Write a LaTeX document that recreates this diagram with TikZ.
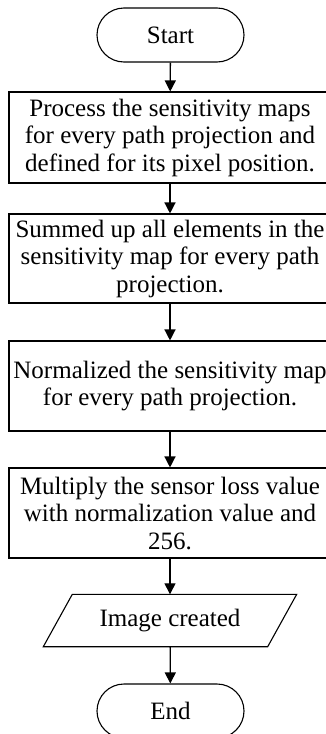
\documentclass[tikz,border=0pt]{standalone}
\usepackage{fontspec}
\setmainfont{Liberation Serif}
\usetikzlibrary{arrows.meta,calc}
\begin{document}
\begin{tikzpicture}[x=1pt,y=-1pt,
  every node/.style={font=\fontsize{25}{27.5}\selectfont, align=center, inner sep=0pt},
  term/.style={draw, line width=1.1pt, rounded corners=27pt, minimum width=147pt, minimum height=54pt},
  procbox/.style={draw, line width=1.1pt, minimum width=322pt},
  iotext/.style={minimum width=224pt, minimum height=52pt},
  flow/.style={line width=1.3pt, -{Triangle[width=11pt,length=11pt]}}]
\useasboundingbox (0,0) rectangle (326,734);
\clip (0,0) rectangle (326,734);
\node[term] (start) at (170.5,35) {Start};
\node[procbox, minimum height=91pt] (p1) at (170,137.5) {Process the sensitivity maps\\for every path projection and\\defined for its pixel position.};
\node[procbox, minimum height=89pt] (p2) at (170,258.5) {Summed up all elements in the\\sensitivity map for every path\\projection.};
\node[procbox, minimum height=90pt] (p3) at (170,386) {Normalized the sensitivity map\\for every path projection.};
\node[procbox, minimum height=90pt] (p4) at (170,513) {Multiply the sensor loss value\\with normalization value and\\256.};
\node[iotext] (io) at (170,620.5) {Image created};
\draw[line width=1.1pt] ($(io.north west)+(14.5,0)$) -- ($(io.north east)+(14.5,0)$) -- ($(io.south east)+(-14.5,0)$) -- ($(io.south west)+(-14.5,0)$) -- cycle;
\node[term] (end) at (170.5,711) {End};
\draw[flow] (start) -- (p1);
\draw[flow] (p1) -- (p2);
\draw[flow] (p2) -- (p3);
\draw[flow] (p3) -- (p4);
\draw[flow] (p4) -- (io);
\draw[flow] (io) -- (end);
\end{tikzpicture}
\end{document}
